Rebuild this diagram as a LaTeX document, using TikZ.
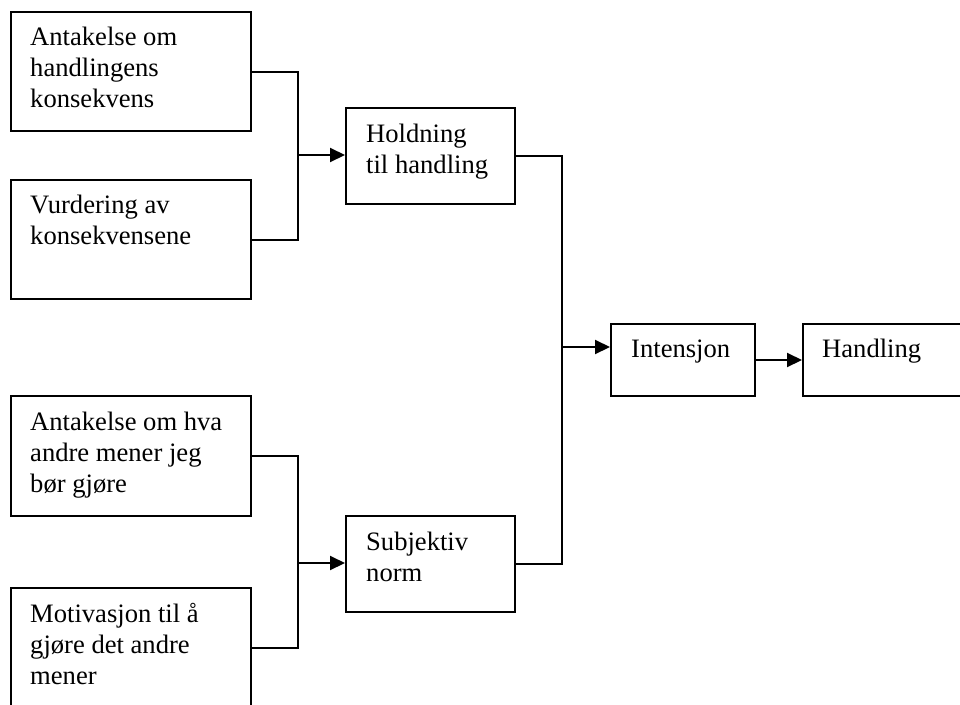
\documentclass[tikz,border=0pt]{standalone}
\usepackage{fontspec}
\setmainfont{Liberation Serif}
\usetikzlibrary{arrows.meta,calc}
\begin{document}
\begin{tikzpicture}[x=1pt,y=-1pt,
  box/.style={draw=black, line width=2pt, inner sep=0pt, anchor=north west, minimum width=#1},
  box/.default=240pt,
  txt/.style={font=\fontsize{26.6}{31}\selectfont, align=left, inner sep=0pt, anchor=base west},
  conn/.style={line width=2pt},
  arr/.style={line width=2pt, -{Triangle[length=15pt,width=14pt]}}
]
\useasboundingbox (0,0) rectangle (960,704);
\clip (0,0) rectangle (960,704);
% left boxes
\node[box, minimum height=119pt] (A) at (10,11) {};
\node[box, minimum height=119pt] (B) at (10,179) {};
\node[box, minimum height=120pt] (C) at (10,395) {};
\node[box, minimum height=119pt] (D) at (10,587) {};
% middle boxes
\node[box=169pt, minimum height=96pt] (H) at (345,107) {};
\node[box=169pt, minimum height=96pt] (S) at (345,515) {};
% right boxes
\node[box=144pt, minimum height=72pt] (I) at (610,323) {};
\node[box=180pt, minimum height=72pt] (Hd) at (802,323) {};
% texts (anchored at the baseline of the last line)
\node[txt] (tA) at (30,107) {Antakelse om\\handlingens\\konsekvens};
\node[txt] (tB) at (30,244) {Vurdering av\\konsekvensene};
\node[txt] (tC) at (30,492) {Antakelse om hva\\andre mener jeg\\bør gjøre};
\node[txt] (tD) at (30,684) {Motivasjon til å\\gjøre det andre\\mener};
\node[txt] (tH) at (366,173) {Holdning\\til handling};
\node[txt] (tS) at (366,581) {Subjektiv\\norm};
\node[txt] (tI) at (631,357) {Intensjon};
\node[txt] (tHd) at (822,357) {Handling};
% junction coordinates
\coordinate (j1) at (298,155);
\coordinate (j2) at (298,563);
\coordinate (j3) at (562,347);
% connectors
\draw[conn] (A.east) -| (j1) |- (B.east);
\draw[arr] (j1) -- (j1 -| H.west);
\draw[conn] (C.east) -| (j2) |- (D.east);
\draw[arr] (j2) -- (j2 -| S.west);
\draw[conn] (H.east) -| (j3) |- (S.east);
\draw[arr] (j3) -- (j3 -| I.west);
\draw[arr] (I.east) -- (Hd.west);
\end{tikzpicture}
\end{document}
